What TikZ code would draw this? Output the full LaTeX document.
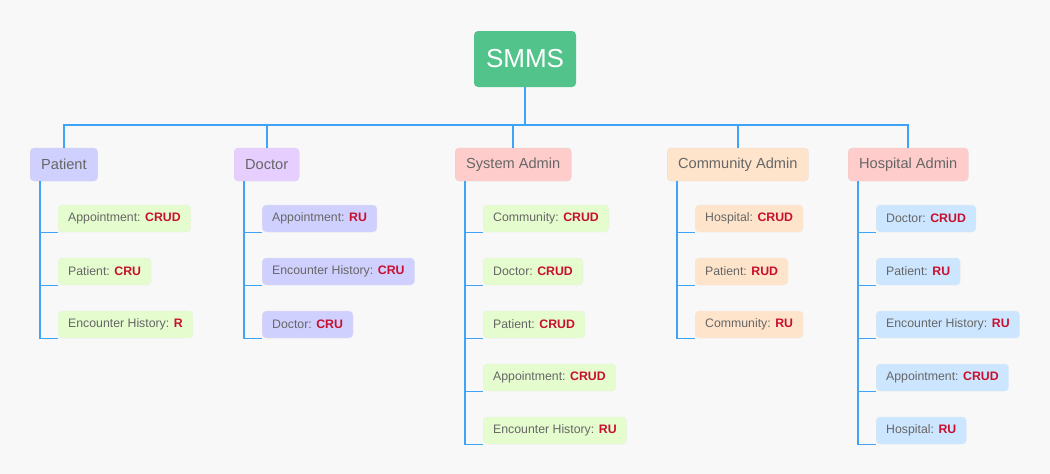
\documentclass[tikz,border=0pt]{standalone}
\usepackage{fontspec}
\setmainfont{Liberation Sans}
\definecolor{bg}{HTML}{F8F8F8}
\definecolor{ln}{HTML}{3FA3F7}
\definecolor{txt}{HTML}{666666}
\definecolor{perm}{HTML}{C8102E}
\definecolor{rootc}{HTML}{52C48B}
\definecolor{cblue}{HTML}{D0D0FF}
\definecolor{cpurple}{HTML}{E6CEFF}
\definecolor{cpink}{HTML}{FFCCCC}
\definecolor{corange}{HTML}{FFE4CC}
\definecolor{cgreen}{HTML}{E5FCCF}
\definecolor{csky}{HTML}{CDE6FF}
\newcommand{\permtxt}[1]{\textcolor{perm}{\bfseries #1}}
\begin{document}
\begin{tikzpicture}[x=1pt,y=-1pt,
  rootbox/.style={fill=rootc,rounded corners=4pt,text=white,minimum width=102pt,minimum height=56pt,inner sep=0pt,font=\fontsize{26}{30}\selectfont},
  hdr/.style={fill=#1,draw=#1!85!black!60,line width=0.3pt,rounded corners=4pt,text=txt,anchor=west,inner xsep=11pt,inner ysep=0pt,minimum height=33pt,font=\fontsize{14.6}{17}\selectfont},
  leaf/.style={fill=#1,draw=#1!85!black!40,line width=0.3pt,rounded corners=4pt,text=txt,anchor=west,inner xsep=10pt,inner ysep=0pt,minimum height=27pt,font=\fontsize{12.3}{14}\selectfont},
  main/.style={draw=ln,line width=2pt},
  sub/.style={draw=ln,line width=1.3pt},
]
\useasboundingbox (0,0) rectangle (1050,474);
\fill[bg] (0,0) rectangle (1050,474);

\node[rootbox] (root) at (525,59) {SMMS};

% headers
\node[hdr=cblue] (p) at (30,164.5) {Patient};
\node[hdr=cpurple] (d) at (234,164.5) {Doctor};
\node[hdr=cpink] (s) at (455,164.5) {System Admin};
\node[hdr=corange] (c) at (667,164.5) {Community Admin};
\node[hdr=cpink] (h) at (848,164.5) {Hospital Admin};

\foreach \n in {p,d,s,c,h}{
  \draw[main] (root.south) -- ++(0,38) -| (\n.north);
}

% Patient
\node[leaf=cgreen] (p1) at (58,218.5) {Appointment: \permtxt{CRUD}};
\node[leaf=cgreen] (p2) at (58,271.5) {Patient: \permtxt{CRU}};
\node[leaf=cgreen] (p3) at (58,324.5) {Encounter History: \permtxt{R}};
% Doctor
\node[leaf=cblue] (d1) at (262,218.5) {Appointment: \permtxt{RU}};
\node[leaf=cblue] (d2) at (262,271.5) {Encounter History: \permtxt{CRU}};
\node[leaf=cblue] (d3) at (262,324.5) {Doctor: \permtxt{CRU}};
% System Admin
\node[leaf=cgreen] (s1) at (483,218.5) {Community: \permtxt{CRUD}};
\node[leaf=cgreen] (s2) at (483,271.5) {Doctor: \permtxt{CRUD}};
\node[leaf=cgreen] (s3) at (483,324.5) {Patient: \permtxt{CRUD}};
\node[leaf=cgreen] (s4) at (483,377.5) {Appointment: \permtxt{CRUD}};
\node[leaf=cgreen] (s5) at (483,430.5) {Encounter History: \permtxt{RU}};
% Community Admin
\node[leaf=corange] (c1) at (695,218.5) {Hospital: \permtxt{CRUD}};
\node[leaf=corange] (c2) at (695,271.5) {Patient: \permtxt{RUD}};
\node[leaf=corange] (c3) at (695,324.5) {Community: \permtxt{RU}};
% Hospital Admin
\node[leaf=csky] (h1) at (876,218.5) {Doctor: \permtxt{CRUD}};
\node[leaf=csky] (h2) at (876,271.5) {Patient: \permtxt{RU}};
\node[leaf=csky] (h3) at (876,324.5) {Encounter History: \permtxt{RU}};
\node[leaf=csky] (h4) at (876,377.5) {Appointment: \permtxt{CRUD}};
\node[leaf=csky] (h5) at (876,430.5) {Hospital: \permtxt{RU}};

\foreach \n in {p1,p2,p3}{\draw[sub] ([xshift=10pt]p.south west) |- (\n.south west);}
\foreach \n in {d1,d2,d3}{\draw[sub] ([xshift=10pt]d.south west) |- (\n.south west);}
\foreach \n in {s1,s2,s3,s4,s5}{\draw[sub] ([xshift=10pt]s.south west) |- (\n.south west);}
\foreach \n in {c1,c2,c3}{\draw[sub] ([xshift=10pt]c.south west) |- (\n.south west);}
\foreach \n in {h1,h2,h3,h4,h5}{\draw[sub] ([xshift=10pt]h.south west) |- (\n.south west);}
\end{tikzpicture}
\end{document}
